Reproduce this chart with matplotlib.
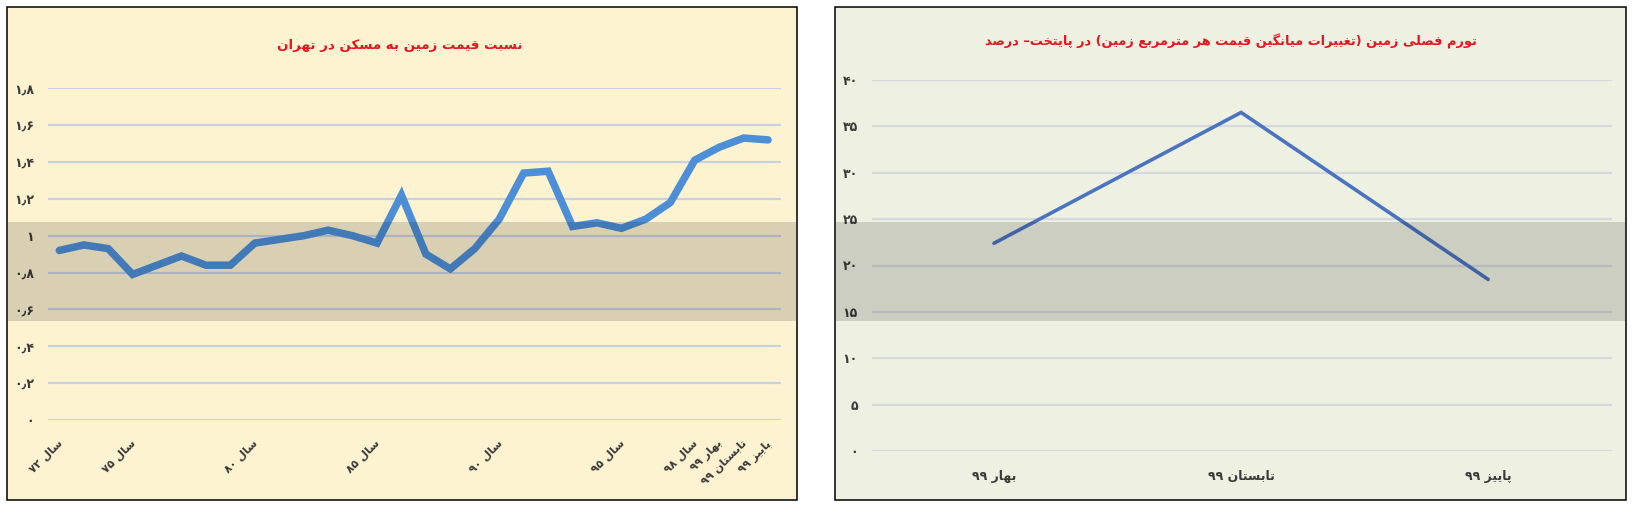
import re
import matplotlib
matplotlib.use("Agg")
import matplotlib.pyplot as plt
from matplotlib.patches import Rectangle
from matplotlib.transforms import ScaledTranslation
from matplotlib.font_manager import findfont, FontProperties
from matplotlib.ft2font import FT2Font

# ── Data ──────────────────────────────────────────────────────────────────────
years = [72, 73, 74, 75, 76, 77, 78, 79, 80, 81, 82, 83, 84, 85, 86, 87, 88,
         89, 90, 91, 92, 93, 94, 95, 96, 97, 98]
seasons_99 = ["بهار ۹۹", "تابستان ۹۹", "پاییز ۹۹"]
land_house_ratio = [0.92, 0.95, 0.93, 0.79, 0.84, 0.89, 0.84, 0.84, 0.96, 0.98,
                    1.00, 1.03, 1.00, 0.96, 1.22, 0.90, 0.82, 0.93, 1.09, 1.34,
                    1.35, 1.05, 1.07, 1.04, 1.09, 1.18, 1.41, 1.48, 1.53, 1.52]
shown_left_ticks = ["سال ۷۲", "سال ۷۵", "سال ۸۰", "سال ۸۵", "سال ۹۰", "سال ۹۵",
                    "سال ۹۸", "بهار ۹۹", "تابستان ۹۹", "پاییز ۹۹"]
left_yticks = [0, 0.2, 0.4, 0.6, 0.8, 1.0, 1.2, 1.4, 1.6, 1.8]

season_inflation = [22.4, 36.5, 18.5]
right_yticks = [0, 5, 10, 15, 20, 25, 30, 35, 40]

title_left = "نسبت قیمت زمین به مسکن در تهران"
title_right = "تورم فصلی زمین (تغییرات میانگین قیمت هر مترمربع زمین) در پایتخت– درصد"

# ── Colours ───────────────────────────────────────────────────────────────────
BG_LEFT = "#fdf3d1"
BG_RIGHT = "#eef0e2"
GRID_LEFT = "#c9d0e3"
GRID_RIGHT = "#d5d8df"
LINE_LEFT = "#4d8fd6"
LINE_RIGHT = "#4a74bf"
TITLE_RED = "#e8141e"
TICK = "#3a3a3a"

# ── Minimal Persian shaping (matplotlib has no complex text layout) ──────────
FORMS = {  # isolated, final, initial, medial
    "ا": (0xFE8D, 0xFE8E, None, None), "آ": (0xFE81, 0xFE82, None, None),
    "ب": (0xFE8F, 0xFE90, 0xFE91, 0xFE92), "پ": (0xFB56, 0xFB57, 0xFB58, 0xFB59),
    "ت": (0xFE95, 0xFE96, 0xFE97, 0xFE98), "ث": (0xFE99, 0xFE9A, 0xFE9B, 0xFE9C),
    "ج": (0xFE9D, 0xFE9E, 0xFE9F, 0xFEA0), "چ": (0xFB7A, 0xFB7B, 0xFB7C, 0xFB7D),
    "ح": (0xFEA1, 0xFEA2, 0xFEA3, 0xFEA4), "خ": (0xFEA5, 0xFEA6, 0xFEA7, 0xFEA8),
    "د": (0xFEA9, 0xFEAA, None, None), "ذ": (0xFEAB, 0xFEAC, None, None),
    "ر": (0xFEAD, 0xFEAE, None, None), "ز": (0xFEAF, 0xFEB0, None, None),
    "ژ": (0xFB8A, 0xFB8B, None, None),
    "س": (0xFEB1, 0xFEB2, 0xFEB3, 0xFEB4), "ش": (0xFEB5, 0xFEB6, 0xFEB7, 0xFEB8),
    "ص": (0xFEB9, 0xFEBA, 0xFEBB, 0xFEBC), "ض": (0xFEBD, 0xFEBE, 0xFEBF, 0xFEC0),
    "ط": (0xFEC1, 0xFEC2, 0xFEC3, 0xFEC4), "ظ": (0xFEC5, 0xFEC6, 0xFEC7, 0xFEC8),
    "ع": (0xFEC9, 0xFECA, 0xFECB, 0xFECC), "غ": (0xFECD, 0xFECE, 0xFECF, 0xFED0),
    "ف": (0xFED1, 0xFED2, 0xFED3, 0xFED4), "ق": (0xFED5, 0xFED6, 0xFED7, 0xFED8),
    "ک": (0xFB8E, 0xFB8F, 0xFB90, 0xFB91), "گ": (0xFB92, 0xFB93, 0xFB94, 0xFB95),
    "ل": (0xFEDD, 0xFEDE, 0xFEDF, 0xFEE0), "م": (0xFEE1, 0xFEE2, 0xFEE3, 0xFEE4),
    "ن": (0xFEE5, 0xFEE6, 0xFEE7, 0xFEE8), "ه": (0xFEE9, 0xFEEA, 0xFEEB, 0xFEEC),
    "و": (0xFEED, 0xFEEE, None, None), "ی": (0xFBFC, 0xFBFD, 0xFBFE, 0xFBFF),
}
MIRROR = str.maketrans("()", ")(")
FA_DIGITS = str.maketrans("0123456789", "۰۱۲۳۴۵۶۷۸۹")


def _charset(weight):
    path = findfont(FontProperties(family="DejaVu Sans", weight=weight))
    return set(FT2Font(path).get_charmap().keys())


CHARS = {"normal": _charset("normal"), "bold": _charset("bold")}


def fa(text, weight="normal"):
    """Contextual forms + visual (reversed) order, keeping digit runs LTR."""
    have = CHARS[weight]
    out = []
    for i, c in enumerate(text):
        if c not in FORMS:
            out.append(c)
            continue
        prev = text[i - 1] if i > 0 else ""
        nxt = text[i + 1] if i < len(text) - 1 else ""
        f = FORMS[c]
        jp = prev in FORMS and FORMS[prev][2] is not None
        jn = f[2] is not None and nxt in FORMS
        code = f[3] if (jp and jn) else f[1] if jp else f[2] if jn else f[0]
        out.append(chr(code) if code in have else c)
    s = "".join(out)[::-1].translate(MIRROR)
    return re.sub(r"[0-9\u06F0-\u06F9\u066B,]+", lambda m: m.group(0)[::-1], s)


def fa_num(v):
    return f"{v:g}".replace(".", "\u066B").translate(FA_DIGITS)


# ── Figure ────────────────────────────────────────────────────────────────────
W, H = 1633, 509
fig = plt.figure(figsize=(W / 100, H / 100), dpi=100, facecolor="white")


def fx(px):
    return px / W


def fy(py):
    return 1 - py / H


# panel frames
for x0, x1, bg in [(7, 797, BG_LEFT), (835, 1626, BG_RIGHT)]:
    fig.add_artist(Rectangle((fx(x0), fy(500)), fx(x1 - x0), (500 - 7) / H,
                             facecolor=bg, edgecolor="black", lw=1.1,
                             transform=fig.transFigure, zorder=0))

# ── Left chart: land / housing price ratio ───────────────────────────────────
axl = fig.add_axes([fx(47.7), fy(420), fx(781 - 47.7), (420 - 88.3) / H])
axl.set_facecolor("none")
n_left = len(land_house_ratio)
xl = list(range(n_left))
axl.plot(xl, land_house_ratio, color=LINE_LEFT, lw=5.4,
         solid_capstyle="round", solid_joinstyle="miter", zorder=3)
axl.set_xlim(-0.475, n_left - 1 + 0.53)
axl.set_ylim(0, 1.8)
axl.set_yticks(left_yticks)
axl.set_yticklabels([fa_num(v) for v in left_yticks], fontweight="bold")
for v in left_yticks:
    axl.axhline(v, color=GRID_LEFT, lw=1.6, zorder=1)

left_labels = [f"سال {y}".translate(FA_DIGITS) for y in years] + seasons_99
tick_idx = [left_labels.index(t) for t in shown_left_ticks]
axl.set_xticks(tick_idx)
axl.set_xticklabels([fa(left_labels[i], "bold") for i in tick_idx],
                    rotation=45, ha="right", fontsize=8, fontweight="bold",
                    color=TICK)
axl.tick_params(axis="x", length=0, pad=13)
axl.tick_params(axis="y", length=0, pad=10, labelsize=9, labelcolor=TICK)
shift = ScaledTranslation(5 / 100, 0, fig.dpi_scale_trans)
for lab in axl.get_xticklabels():
    lab.set_transform(lab.get_transform() + shift)
for sp in axl.spines.values():
    sp.set_visible(False)

fig.text(fx(400), fy(45), fa(title_left, "bold"), color=TITLE_RED,
         fontsize=9.6, fontweight="bold", ha="center", va="center")

# ── Right chart: seasonal land inflation ─────────────────────────────────────
axr = fig.add_axes([fx(871.7), fy(451), fx(1611.7 - 871.7), (451 - 80) / H])
axr.set_facecolor("none")
xr = list(range(len(season_inflation)))
axr.plot(xr, season_inflation, color=LINE_RIGHT, lw=2.6,
         solid_capstyle="round", solid_joinstyle="miter", zorder=3)
axr.set_xlim(-0.495, len(season_inflation) - 1 + 0.5)
axr.set_ylim(0, 40)
axr.set_yticks(right_yticks)
axr.set_yticklabels([fa_num(v) for v in right_yticks], fontweight="bold")
for v in right_yticks:
    axr.axhline(v, color=GRID_RIGHT, lw=1.6, zorder=1)
axr.set_xticks(xr)
axr.set_xticklabels([fa(s, "bold") for s in seasons_99], fontsize=9,
                    fontweight="bold", color=TICK)
axr.tick_params(axis="x", length=0, pad=14)
axr.tick_params(axis="y", length=0, pad=10, labelsize=9, labelcolor=TICK)
for sp in axr.spines.values():
    sp.set_visible(False)

fig.text(fx(1231), fy(41), fa(title_right, "bold"), color=TITLE_RED,
         fontsize=9.3, fontweight="bold", ha="center", va="center")

# ── Grey watermark band across both panels ───────────────────────────────────
for x0, x1 in [(8, 796), (836, 1625)]:
    fig.add_artist(Rectangle((fx(x0), fy(321)), fx(x1 - x0), (321 - 222) / H,
                             facecolor="black", edgecolor="none", alpha=0.14,
                             transform=fig.transFigure, zorder=10))

fig.savefig("out.png", dpi=100, facecolor="white")
